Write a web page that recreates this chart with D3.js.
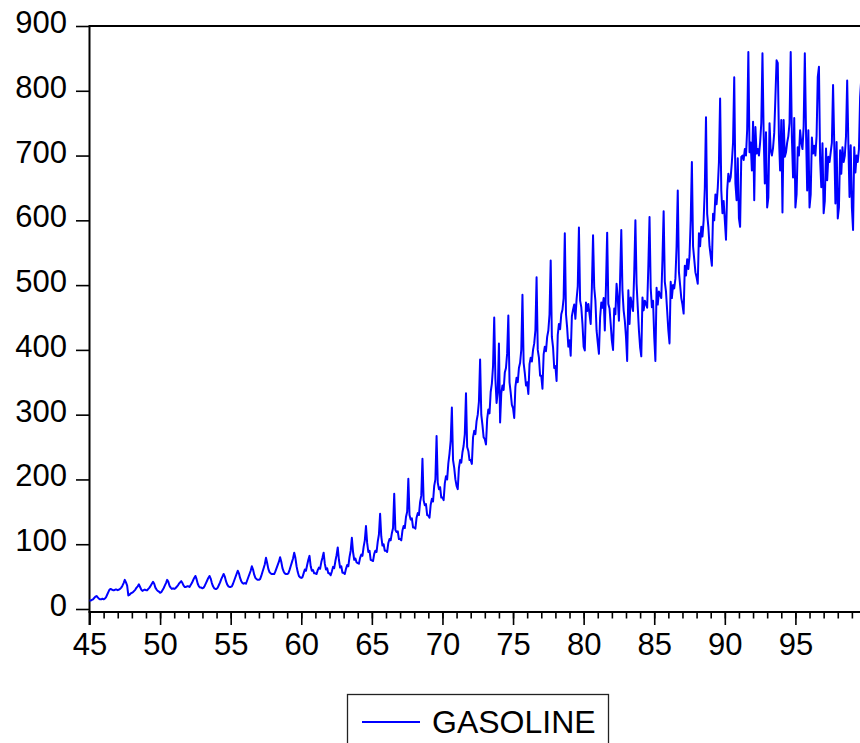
<!DOCTYPE html>
<html>
<head>
<meta charset="utf-8">
<script src="https://d3js.org/d3.v7.min.js"></script>
<style>
body { margin: 0; background: #fff; }
svg { display: block; }
text { font-family: "Liberation Sans", Arial, sans-serif; fill: #000; }
</style>
</head>
<body>
<script>
// monthly series, starts January 1945
const startYear = 1945;
const seriesName = "GASOLINE";
const yTicks = [0, 100, 200, 300, 400, 500, 600, 700, 800, 900];
const majorYears = [1945, 1950, 1955, 1960, 1965, 1970, 1975, 1980, 1985, 1990, 1995];

// one row per year, Jan..Dec
const gas1940s = [
  13, 13, 14, 15, 17, 19, 20, 18, 16, 15, 15, 16,
  15, 16, 18, 22, 26, 30, 31, 30, 29, 29, 30, 30,
  29, 30, 31, 33, 36, 40, 45, 41, 36, 21, 22, 24,
  25, 26, 28, 30, 33, 35, 38, 34, 30, 28, 29, 30,
  29, 29, 31, 33, 36, 39, 42, 39, 33, 30, 28, 27
];
const gas1950s = [
  25, 26, 29, 32, 36, 40, 45, 42, 36, 33, 31, 32,
  31, 32, 34, 36, 39, 41, 43, 40, 36, 34, 34, 35,
  35, 34, 37, 40, 44, 48, 51, 46, 39, 35, 33, 33,
  32, 33, 36, 40, 44, 48, 51, 47, 40, 35, 32, 31,
  31, 33, 37, 41, 46, 50, 54, 50, 43, 38, 35, 34,
  34, 35, 39, 44, 49, 54, 59, 55, 48, 43, 40, 39,
  40, 39, 44, 49, 54, 59, 66, 61, 53, 48, 46, 45,
  45, 46, 51, 57, 63, 69, 79, 71, 62, 57, 55, 54,
  54, 54, 58, 63, 68, 73, 80, 73, 63, 58, 55, 54,
  54, 55, 60, 66, 72, 78, 87, 79, 66, 57, 51, 49
];
const gas1960s = [
  48, 49, 55, 61, 59, 68, 76, 82, 66, 59, 60, 55,
  55, 54, 60, 64, 62, 72, 79, 87, 70, 61, 63, 55,
  55, 52, 58, 65, 63, 74, 83, 95, 76, 64, 66, 56,
  56, 54, 62, 68, 66, 80, 90, 110, 88, 76, 78, 72,
  71, 70, 79, 84, 82, 96, 106, 128, 102, 88, 90, 76,
  75, 74, 85, 90, 88, 104, 115, 147, 112, 98, 100, 90,
  90, 88, 102, 108, 106, 117, 125, 178, 122, 119, 120, 108,
  108, 106, 121, 128, 125, 142, 150, 201, 145, 138, 140, 126,
  126, 124, 141, 148, 145, 165, 175, 232, 168, 160, 162, 145,
  144, 141, 161, 170, 166, 190, 200, 267, 195, 185, 188, 172
];
const gas1970s = [
  172, 168, 194, 205, 200, 225, 240, 260, 311, 230, 218, 200,
  190, 185, 218, 230, 226, 242, 252, 270, 333, 250, 244, 230,
  230, 224, 265, 275, 270, 290, 300, 320, 385, 300, 284, 265,
  262, 254, 293, 308, 302, 335, 348, 375, 450, 355, 318, 335,
  410, 288, 333, 345, 338, 365, 372, 395, 453, 350, 334, 315,
  310, 295, 343, 357, 350, 372, 380, 400, 485, 380, 364, 345,
  350, 332, 378, 388, 382, 400, 410, 430, 512, 400, 388, 360,
  360, 340, 393, 405, 398, 420, 430, 455, 538, 420, 404, 372,
  375, 352, 423, 440, 432, 455, 462, 480, 580, 455, 434, 405,
  415, 391, 452, 462, 470, 448, 478, 498, 589, 476, 466, 440
];
const gas1980s = [
  405, 399, 473, 460, 471, 455, 440, 496, 577, 496, 476, 430,
  411, 394, 450, 473, 465, 480, 430, 500, 581, 471, 464, 440,
  414, 400, 464, 455, 502, 480, 445, 510, 585, 492, 461, 445,
  420, 383, 492, 440, 481, 470, 460, 520, 600, 502, 466, 430,
  404, 390, 481, 461, 476, 471, 465, 530, 605, 496, 466, 476,
  420, 383, 496, 470, 490, 485, 480, 540, 614, 505, 490, 460,
  430, 410, 505, 480, 500, 495, 510, 560, 646, 520, 500, 480,
  470, 456, 530, 515, 540, 525, 545, 600, 690, 560, 540, 520,
  512, 502, 580, 560, 590, 575, 600, 650, 759, 610, 590, 560,
  545, 530, 610, 600, 640, 625, 650, 690, 788, 646, 611, 630
];
const gas1990s = [
  600, 570, 646, 672, 660, 667, 690, 720, 821, 657, 631, 696,
  603, 590, 698, 700, 693, 710, 700, 740, 860, 705, 720, 677,
  752, 631, 744, 703, 710, 700, 720, 750, 858, 734, 657, 736,
  620, 635, 750, 708, 700, 712, 735, 790, 847, 843, 728, 677,
  755, 612, 755, 698, 705, 720, 730, 750, 860, 728, 666, 758,
  620, 640, 713, 700, 739, 720, 710, 745, 858, 739, 646, 739,
  620, 640, 728, 703, 715, 700, 730, 821, 837, 693, 651, 719,
  611, 630, 711, 662, 698, 690, 705, 720, 809, 719, 626, 721,
  603, 620, 708, 672, 713, 690, 700, 730, 816, 719, 636, 716,
  620, 585, 713, 674, 700, 690, 710, 790, 820, 700, 660, 700
];

const gasoline = [].concat(gas1940s, gas1950s, gas1960s, gas1970s, gas1980s, gas1990s);
const data = gasoline.map((v, i) => ({ t: startYear + i / 12, v: v }));

const width = 860, height = 743;
const plotLeft = 89.5, plotTop = 26, zeroY = 609, axisY = 612;

const svg = d3.select("body").append("svg")
    .attr("width", width)
    .attr("height", height);

const x = d3.scaleLinear().domain([1945, 2000]).range([plotLeft, 866]);
const y = d3.scaleLinear().domain([0, 900]).range([zeroY, plotTop]);

// frame: top line, left axis, bottom axis
svg.append("line")
    .attr("x1", plotLeft).attr("x2", width + 10)
    .attr("y1", plotTop).attr("y2", plotTop)
    .attr("stroke", "#000").attr("stroke-width", 2);
svg.append("line")
    .attr("x1", plotLeft).attr("x2", plotLeft)
    .attr("y1", plotTop - 1).attr("y2", axisY + 13)
    .attr("stroke", "#000").attr("stroke-width", 2);
svg.append("line")
    .attr("x1", plotLeft - 1).attr("x2", width + 10)
    .attr("y1", axisY).attr("y2", axisY)
    .attr("stroke", "#000").attr("stroke-width", 2);

// y axis
const yAxis = svg.append("g")
    .attr("transform", `translate(${plotLeft},0)`)
    .call(d3.axisLeft(y).tickValues(yTicks).tickSize(13.5).tickPadding(9).tickSizeOuter(0));
yAxis.select(".domain").remove();
yAxis.selectAll("line").attr("stroke", "#000").attr("stroke-width", 1.6);
yAxis.selectAll("text")
    .attr("dy", "0.21em")
    .style("font-size", "31px")
    .style("font-family", "'Liberation Sans', Arial, sans-serif");

// x axis: yearly minor ticks, labels every 5 years
const minorYears = d3.range(1945, 2000);
const xMinor = svg.append("g")
    .attr("transform", `translate(0,${axisY})`)
    .call(d3.axisBottom(x).tickValues(minorYears).tickSize(6.5).tickFormat("").tickSizeOuter(0));
xMinor.select(".domain").remove();
xMinor.selectAll("line").attr("stroke", "#000").attr("stroke-width", 1.6);

const xAxis = svg.append("g")
    .attr("transform", `translate(0,${axisY})`)
    .call(d3.axisBottom(x).tickValues(majorYears).tickSize(13).tickPadding(8)
        .tickFormat(d => String(d % 100)).tickSizeOuter(0));
xAxis.select(".domain").remove();
xAxis.selectAll("line").attr("stroke", "#000").attr("stroke-width", 1.6);
xAxis.selectAll("text")
    .style("font-size", "31px")
    .style("font-family", "'Liberation Sans', Arial, sans-serif");

// the series
const line = d3.line()
    .x(d => x(d.t))
    .y(d => y(d.v));
svg.append("path")
    .datum(data)
    .attr("d", line)
    .attr("fill", "none")
    .attr("stroke", "#0000ff")
    .attr("stroke-width", 2)
    .attr("stroke-linejoin", "round");

// legend, box runs off the bottom
const legend = svg.append("g");
legend.append("rect")
    .attr("x", 347.5).attr("y", 694.5)
    .attr("width", 261).attr("height", 70)
    .attr("fill", "#fff")
    .attr("stroke", "#222").attr("stroke-width", 1.3);
legend.append("line")
    .attr("x1", 362).attr("x2", 420)
    .attr("y1", 722).attr("y2", 722)
    .attr("stroke", "#0000ff").attr("stroke-width", 2);
legend.append("text")
    .attr("x", 432).attr("y", 733)
    .style("font-size", "32px")
    .text(seriesName);
</script>
</body>
</html>
